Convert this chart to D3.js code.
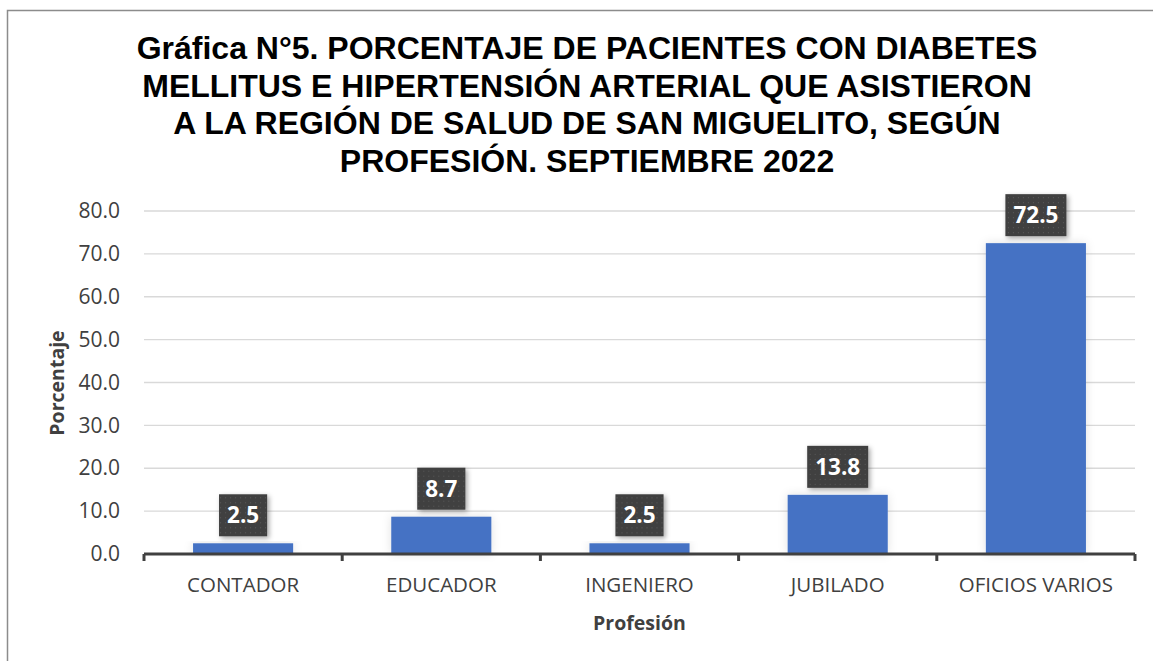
<!DOCTYPE html>
<html>
<head>
<meta charset="utf-8">
<script src="https://cdn.jsdelivr.net/npm/d3@7"></script>
<style>
  body { margin: 0; background: #fff; }
  svg { display: block; }
</style>
</head>
<body>
<svg width="1153" height="661"></svg>
<script>
// DATA

  var categories = ["CONTADOR", "EDUCADOR", "INGENIERO", "JUBILADO", "OFICIOS VARIOS"],
      values = [2.5, 8.7, 2.5, 13.8, 72.5],
      yTicks = [0, 10, 20, 30, 40, 50, 60, 70, 80],
      titleLines = [
        "Gráfica N°5. PORCENTAJE DE PACIENTES CON DIABETES",
        "MELLITUS E HIPERTENSIÓN ARTERIAL QUE ASISTIERON",
        "A LA REGIÓN DE SALUD DE SAN MIGUELITO, SEGÚN",
        "PROFESIÓN. SEPTIEMBRE 2022"
      ];

// SETUP

  var svg = d3.select("svg"),
      margin = { top: 211, right: 18, bottom: 107, left: 144 },
      width = 1153 - margin.left - margin.right,
      height = 661 - margin.top - margin.bottom;

  var x = d3.scaleBand().domain(categories).range([0, width])
        .paddingInner(0.495).paddingOuter(0.2475),
      y = d3.scaleLinear().domain([0, 80]).range([height, 0]);

  var defs = svg.append("defs");

  var shadow = defs.append("filter").attr("id", "shadow")
    .attr("x", "-30%").attr("y", "-30%").attr("width", "160%").attr("height", "160%");
  shadow.append("feDropShadow")
    .attr("dx", 2).attr("dy", 2).attr("stdDeviation", 2.5)
    .attr("flood-color", "#000").attr("flood-opacity", 0.35);

  var barGlow = defs.append("filter").attr("id", "barglow")
    .attr("x", "-20%").attr("y", "-20%").attr("width", "140%").attr("height", "140%");
  barGlow.append("feDropShadow")
    .attr("dx", 0).attr("dy", 0).attr("stdDeviation", 5)
    .attr("flood-color", "#000").attr("flood-opacity", 0.12);

  var dots = defs.append("pattern").attr("id", "dots")
    .attr("patternUnits", "userSpaceOnUse").attr("width", 5).attr("height", 5);
  dots.append("rect").attr("width", 5).attr("height", 5).attr("fill", "#404040");
  dots.append("rect").attr("x", 2).attr("y", 2).attr("width", 1).attr("height", 1).attr("fill", "#5a5a5a");

  // outer border
  svg.append("path")
    .attr("d", "M7.5,661V10.5H1153")
    .attr("fill", "none")
    .attr("stroke", "#8c8c8c")
    .attr("stroke-width", 1.5);

  // title
  svg.append("text")
    .attr("text-anchor", "middle")
    .style("font-family", "'Liberation Sans', Arial, sans-serif")
    .style("font-weight", "bold")
    .style("font-size", "32px")
    .style("fill", "#000")
    .selectAll("tspan")
    .data(titleLines)
    .enter().append("tspan")
      .attr("x", 587)
      .attr("y", function (d, i) { return 59 + i * 37.7; })
      .text(function (d) { return d; });

  var g = svg.append("g")
    .attr("transform", "translate(" + margin.left + "," + margin.top + ")");

// AXES

  g.append("g")
    .attr("class", "grid")
    .selectAll("line")
    .data(yTicks.filter(function (d) { return d > 0; }))
    .enter().append("line")
      .attr("x1", 0)
      .attr("x2", width)
      .attr("y1", function (d) { return y(d); })
      .attr("y2", function (d) { return y(d); })
      .attr("stroke", "#d9d9d9")
      .attr("stroke-width", 1.3);

  var yAxis = g.append("g")
    .attr("class", "axis axis--y")
    .call(d3.axisLeft(y).tickValues(yTicks).tickFormat(d3.format(".1f")).tickSize(0).tickPadding(24));
  yAxis.select(".domain").remove();
  yAxis.selectAll("text")
    .style("font-family", "'Open Sans', sans-serif")
    .style("font-size", "21px")
    .style("fill", "#404040");

  g.append("text")
    .attr("transform", "rotate(-90)")
    .attr("x", -(383 - margin.top))
    .attr("y", -80)
    .attr("text-anchor", "middle")
    .style("font-family", "'Open Sans', sans-serif")
    .style("font-weight", "bold")
    .style("font-size", "19.5px")
    .style("fill", "#404040")
    .text("Porcentaje");

// BARS

  g.selectAll(".bar")
    .data(values)
    .enter().append("rect")
      .attr("class", "bar")
      .attr("x", function (d, i) { return x(categories[i]); })
      .attr("y", function (d) { return y(d); })
      .attr("width", x.bandwidth())
      .attr("height", function (d) { return height - y(d); })
      .attr("fill", "#4472c4")
      .attr("filter", "url(#barglow)");

  // x axis
  var xAxis = g.append("g")
    .attr("class", "axis axis--x")
    .attr("transform", "translate(0," + height + ")");
  xAxis.append("line")
    .attr("x1", 0).attr("x2", width)
    .attr("stroke", "#404040").attr("stroke-width", 3);
  xAxis.selectAll(".tick")
    .data(d3.range(categories.length + 1))
    .enter().append("line")
      .attr("class", "tick")
      .attr("x1", function (d) { return d * x.step(); })
      .attr("x2", function (d) { return d * x.step(); })
      .attr("y1", 0).attr("y2", 7)
      .attr("stroke", "#404040").attr("stroke-width", 3);
  xAxis.selectAll(".label")
    .data(categories)
    .enter().append("text")
      .attr("class", "label")
      .attr("x", function (d) { return x(d) + x.bandwidth() / 2; })
      .attr("y", 38)
      .attr("text-anchor", "middle")
      .style("font-family", "'Open Sans', sans-serif")
      .style("font-size", "20.5px")
      .style("fill", "#404040")
      .text(function (d) { return d; });

  g.append("text")
    .attr("x", x("INGENIERO") + x.bandwidth() / 2)
    .attr("y", height + 76)
    .attr("text-anchor", "middle")
    .style("font-family", "'Open Sans', sans-serif")
    .style("font-weight", "bold")
    .style("font-size", "19.5px")
    .style("fill", "#404040")
    .text("Profesión");

// DATA LABELS

  var labels = g.selectAll(".dlabel")
    .data(values)
    .enter().append("g")
      .attr("class", "dlabel")
      .attr("transform", function (d, i) {
        return "translate(" + (x(categories[i]) + x.bandwidth() / 2) + "," + (y(d) - 28) + ")";
      });

  labels.append("text")
    .attr("text-anchor", "middle")
    .attr("dy", "0.36em")
    .style("font-family", "'Open Sans', sans-serif")
    .style("font-weight", "bold")
    .style("font-size", "22.5px")
    .style("fill", "#fff")
    .text(function (d) { return d3.format(".1f")(d); });

  labels.each(function () {
    var t = d3.select(this).select("text"),
        w = t.node().getComputedTextLength() + 16;
    d3.select(this).insert("rect", "text")
      .attr("x", -w / 2)
      .attr("y", -21)
      .attr("width", w)
      .attr("height", 42)
      .attr("fill", "url(#dots)")
      .attr("filter", "url(#shadow)");
  });
</script>
</body>
</html>
